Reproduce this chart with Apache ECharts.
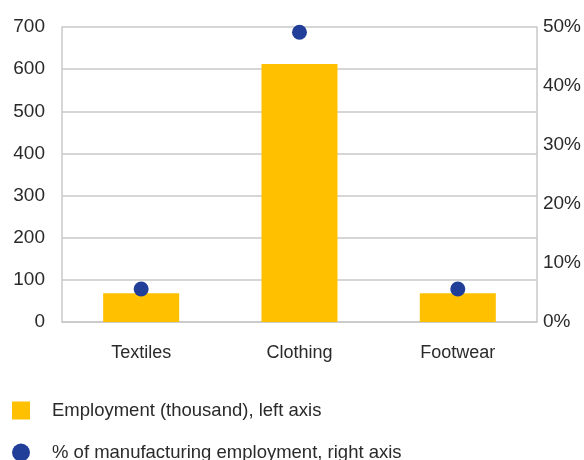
<!DOCTYPE html>
<html><head><meta charset="utf-8">
<script src="https://cdn.jsdelivr.net/npm/echarts@6/dist/echarts.min.js"></script>
<style>html,body{margin:0;padding:0;background:#fff}#c{width:584px;height:460px}</style>
</head><body><div id="c"></div>
<script>
const categories = ['Textiles', 'Clothing', 'Footwear'];
const employment = [68, 612, 68];
const sharePct = [5.6, 49.1, 5.6];
const leftTicks = [0, 700, 100];
const rightTicks = [0, 50, 10];

const font = 'Liberation Sans';
const txt = '#2a2a2a';
const gridCol = '#c8c8c8';
const chart = echarts.init(document.getElementById('c'));
chart.setOption({
  animation: false,
  textStyle: { fontFamily: font },
  grid: { left: 62, right: 46, top: 27, bottom: 138 },
  legend: [{
    data: [{ name: 'Employment (thousand), left axis', icon: 'rect' }],
    left: 12, top: 401, padding: 0, itemWidth: 18, itemHeight: 18,
    textStyle: { fontFamily: font, fontSize: 18.5, lineHeight: 18, color: txt, padding: [0, 0, 0, 17] }
  }, {
    data: [{ name: '% of manufacturing employment, right axis', icon: 'circle' }],
    left: 12, top: 443, padding: 0, itemWidth: 18, itemHeight: 18,
    textStyle: { fontFamily: font, fontSize: 18.5, lineHeight: 18, color: txt, padding: [0, 0, 0, 17] }
  }],
  xAxis: {
    type: 'category', data: categories,
    axisLine: { lineStyle: { color: gridCol, width: 1.5 } },
    axisTick: { show: false },
    axisLabel: { fontFamily: font, fontSize: 18, color: txt, margin: 22 }
  },
  yAxis: [{
    type: 'value', min: leftTicks[0], max: leftTicks[1], interval: leftTicks[2],
    axisLine: { show: true, lineStyle: { color: gridCol, width: 1.5 } },
    axisTick: { show: false },
    splitLine: { lineStyle: { color: gridCol, width: 1.5 } },
    axisLabel: { fontFamily: font, fontSize: 19, color: txt, margin: 17 }
  }, {
    type: 'value', min: rightTicks[0], max: rightTicks[1], interval: rightTicks[2],
    axisLine: { show: true, lineStyle: { color: gridCol, width: 1.5 } },
    axisTick: { show: false },
    splitLine: { show: false },
    axisLabel: { fontFamily: font, fontSize: 19, color: txt, margin: 6, formatter: '{value}%' }
  }],
  series: [{
    name: 'Employment (thousand), left axis', type: 'bar', data: employment,
    barWidth: 76, itemStyle: { color: '#FFC000' }, yAxisIndex: 0
  }, {
    name: '% of manufacturing employment, right axis', type: 'scatter', data: sharePct,
    yAxisIndex: 1, symbolSize: 15, itemStyle: { color: '#213F99', opacity: 1 }
  }]
});
</script></body></html>
